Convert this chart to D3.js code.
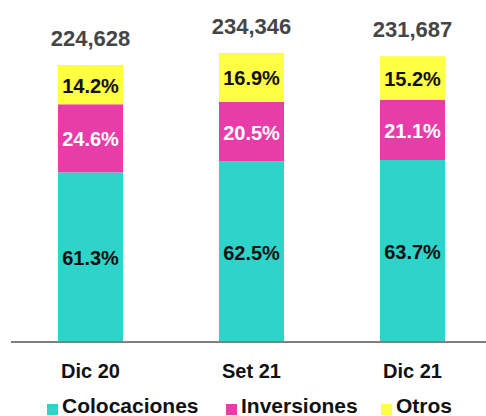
<!DOCTYPE html>
<html>
<head>
    <meta charset="UTF-8">
    <script src="https://d3js.org/d3.v7.min.js"></script>
    <style>
        body { margin: 0; background: #fff; }
        text { font-family: "Liberation Sans", Arial, sans-serif; font-weight: bold; }
    </style>
</head>
<body>
    <div id="chart"></div>
    <script>
     const categories = ["Dic 20", "Set 21", "Dic 21"];
     const totals = [224628, 234346, 231687];
     const colocaciones = [61.3, 62.5, 63.7];
     const inversiones = [24.6, 20.5, 21.1];
     const otros = [14.2, 16.9, 15.2];
     const seriesNames = ["Colocaciones", "Inversiones", "Otros"];

     const width = 486, height = 416;
     const colors = ["#2ed3c9", "#e83ca9", "#ffff44"];
     const labelColors = ["#111", "#fff", "#111"];

     const svg = d3.select("#chart").append("svg")
         .attr("width", width)
         .attr("height", height);

     const x = d3.scaleBand()
         .domain(categories)
         .range([10, 493])
         .paddingInner(0.596)
         .paddingOuter(0.298);

     const y = d3.scaleLinear()
         .domain([0, d3.max(totals)])
         .range([342, 53]);

     // build stacked segments from the shares
     const rows = categories.map((c, i) => {
         const vals = [colocaciones[i], inversiones[i], otros[i]];
         const sum = d3.sum(vals);
         let acc = 0;
         return vals.map((v, k) => {
             const y0 = acc;
             acc += totals[i] * v / sum;
             return {cat: c, k: k, pct: v, y0: y0, y1: acc};
         });
     });

     const g = svg.append("g");
     g.selectAll("rect.seg")
         .data(rows.flat())
         .enter()
         .append("rect")
         .attr("class", "seg")
         .attr("x", d => x(d.cat))
         .attr("width", x.bandwidth())
         .attr("y", d => y(d.y1))
         .attr("height", d => y(d.y0) - y(d.y1))
         .attr("fill", d => colors[d.k]);

     g.selectAll("text.pct")
         .data(rows.flat())
         .enter()
         .append("text")
         .attr("class", "pct")
         .attr("x", d => x(d.cat) + x.bandwidth() / 2)
         .attr("y", d => (y(d.y0) + y(d.y1)) / 2 + 8)
         .attr("text-anchor", "middle")
         .attr("font-size", 20)
         .attr("fill", d => labelColors[d.k])
         .text(d => d.pct.toFixed(1) + "%");

     g.selectAll("text.total")
         .data(categories)
         .enter()
         .append("text")
         .attr("class", "total")
         .attr("x", d => x(d) + x.bandwidth() / 2)
         .attr("y", (d, i) => y(totals[i]) - 19)
         .attr("text-anchor", "middle")
         .attr("font-size", 22)
         .attr("fill", "#454545")
         .text((d, i) => d3.format(",")(totals[i]));

     // baseline axis
     const axis = svg.append("g")
         .attr("transform", `translate(0,${y(0)})`)
         .call(d3.axisBottom(x).tickSize(0).tickPadding(22));
     axis.select(".domain")
         .attr("d", "M11,0H486")
         .attr("stroke", "#808080")
         .attr("stroke-width", 2);
     axis.selectAll("text")
         .attr("font-size", 20)
         .attr("fill", "#111")
         .attr("font-family", "Liberation Sans, Arial, sans-serif");

     // legend (sits at the very bottom edge, as in the source)
     const legendX = [47, 226, 381];
     const legend = svg.selectAll("g.legend")
         .data(seriesNames)
         .enter()
         .append("g")
         .attr("class", "legend")
         .attr("transform", (d, i) => `translate(${legendX[i]},0)`);
     legend.append("rect")
         .attr("y", 404)
         .attr("width", 11)
         .attr("height", 11)
         .attr("fill", (d, i) => colors[i]);
     legend.append("text")
         .attr("x", 15)
         .attr("y", 413)
         .attr("font-size", 21)
         .attr("fill", "#111")
         .text(d => d);
    </script>
</body>
</html>
